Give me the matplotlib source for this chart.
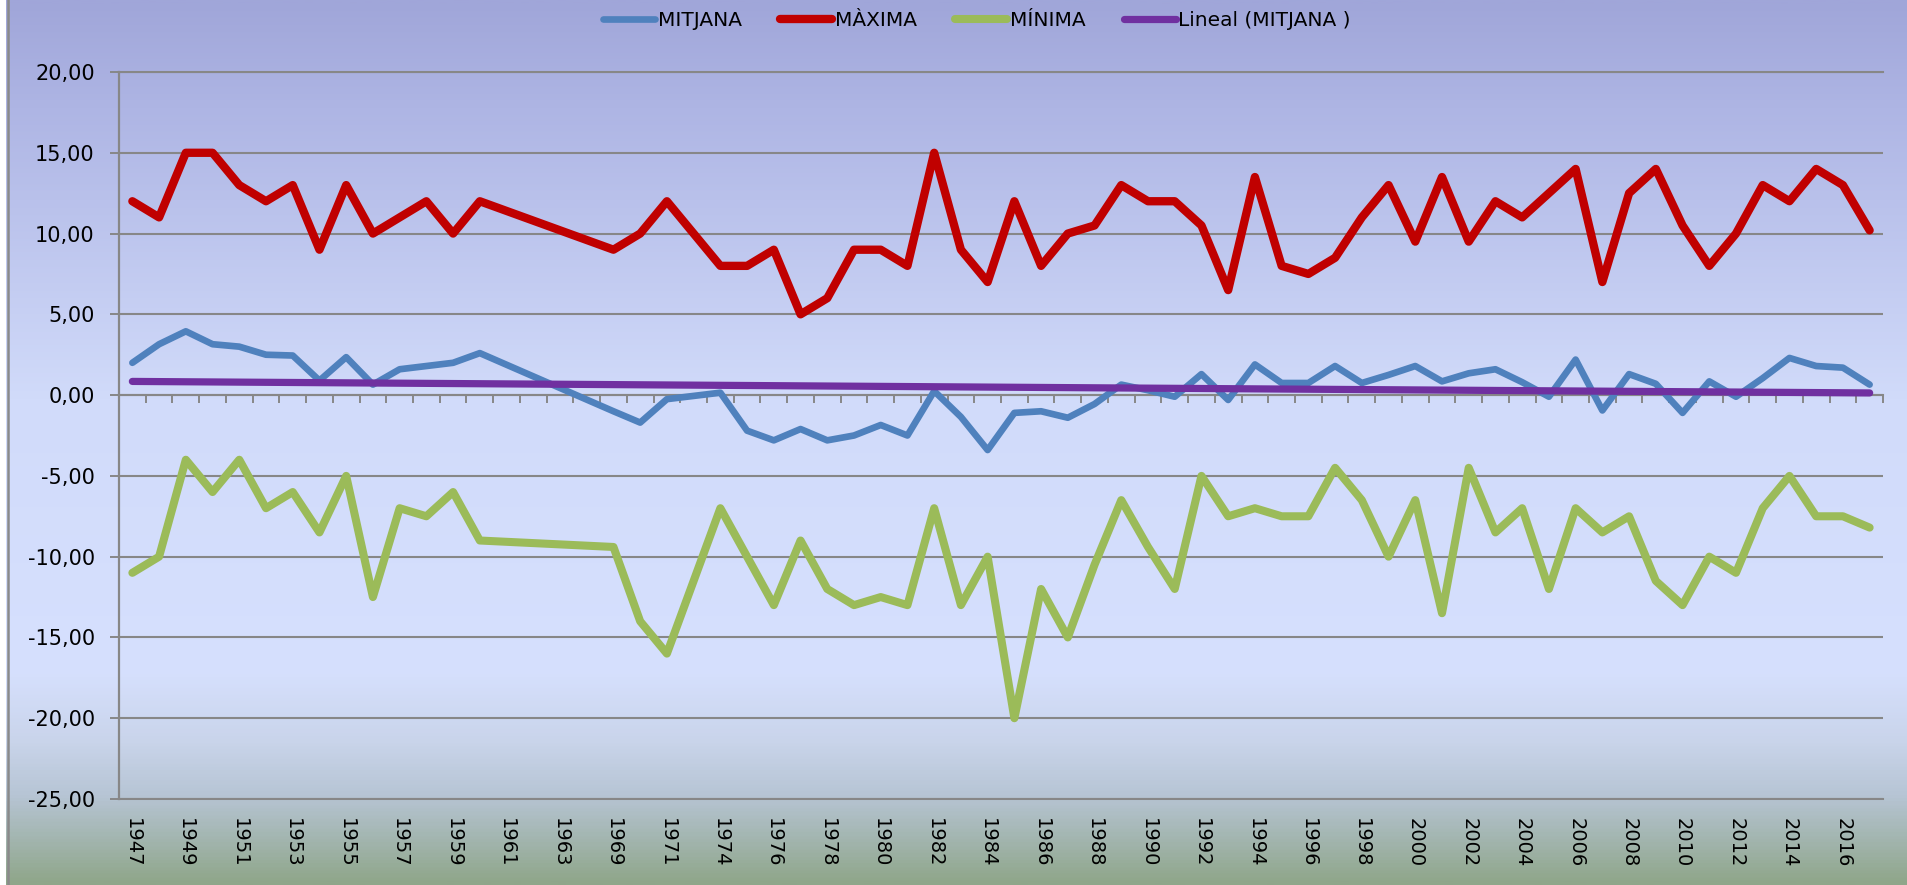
import numpy as np
import matplotlib
matplotlib.use("Agg")
import matplotlib.pyplot as plt
from matplotlib.colors import LinearSegmentedColormap
from matplotlib.ticker import MultipleLocator, FuncFormatter, NullLocator, FixedLocator
from matplotlib.patches import Rectangle

nan = np.nan

years = ['1947', '1948', '1949', '1950', '1951', '1952', '1953', '1954', '1955', '1956',
         '1957', '1958', '1959', '1960', '1961', '1962', '1963', '1968', '1969', '1970',
         '1971', '1973', '1974', '1975', '1976', '1977', '1978', '1979', '1980', '1981',
         '1982', '1983', '1984', '1985', '1986', '1987', '1988', '1989', '1990', '1991',
         '1992', '1993', '1994', '1995', '1996', '1997', '1998', '1999', '2000', '2001',
         '2002', '2003', '2004', '2005', '2006', '2007', '2008', '2009', '2010', '2011',
         '2012', '2013', '2014', '2015', '2016', '2017']

mitjana = [2.0, 3.15, 3.95, 3.15, 3.0, 2.5, 2.45, 0.9, 2.35, 0.65, 1.6, 1.8, 2.0, 2.6,
           nan, nan, nan, nan,
           -1.0, -1.7, -0.25, -0.05, 0.15, -2.2, -2.8, -2.1, -2.8, -2.5, -1.85, -2.5,
           0.25, -1.35, -3.4, -1.1, -1.0, -1.4, -0.55, 0.65, 0.3,
           -0.1, 1.3, -0.3, 1.9, 0.75, 0.75, 1.8, 0.75, 1.25, 1.8, 0.85, 1.35, 1.6, 0.8,
           -0.1, 2.2, -0.95, 1.3, 0.7, -1.1, 0.85, -0.1, 1.05, 2.3, 1.8, 1.7, 0.65]

maxima = [12, 11, 15, 15, 13, 12, 13, 9, 13, 10, 11, 12, 10, 12,
          nan, nan, nan, nan,
          9, 10, 12, 10, 8, 8, 9, 5, 6, 9, 9, 8, 15, 9, 7, 12, 8, 10, 10.5, 13, 12,
          12, 10.5, 6.5, 13.5, 8, 7.5, 8.5, 11, 13, 9.5, 13.5, 9.5, 12, 11, 12.5, 14,
          7, 12.5, 14, 10.5, 8, 10, 13, 12, 14, 13, 10.2]

minima = [-11, -10, -4, -6, -4, -7, -6, -8.5, -5, -12.5, -7, -7.5, -6, -9,
          nan, nan, nan, nan,
          -9.4, -14, -16, -11.5, -7, -10, -13, -9, -12, -13, -12.5, -13, -7, -13, -10,
          -20, -12, -15, -10.5, -6.5, -9.4,
          -12, -5, -7.5, -7, -7.5, -7.5, -4.5, -6.5, -10, -6.5, -13.5, -4.5, -8.5, -7,
          -12, -7, -8.5, -7.5, -11.5, -13, -10, -11, -7, -5, -7.5, -7.5, -8.2]

series_names = ['MITJANA', 'MÀXIMA', 'MÍNIMA', 'Lineal (MITJANA )']
colors = ['#4F81BD', '#C00000', '#9BBB59', '#7030A0']

W, H = 1908, 885
fig = plt.figure(figsize=(W / 100, H / 100), dpi=100)

# background gradient
bg = fig.add_axes([0, 0, 1, 1], zorder=-10)
stops = [(0.0, '#A0A6D9'), (0.12, '#AEB5E4'), (0.45, '#D1DBFA'), (0.76, '#D6E0FE'),
         (0.84, '#C9D4EA'), (0.90, '#B7C5D5'), (1.0, '#8FA68A')]
cmap = LinearSegmentedColormap.from_list('bg', stops)
grad = np.linspace(0, 1, 600).reshape(-1, 1)
bg.imshow(grad, aspect='auto', cmap=cmap, extent=[0, 1, 0, 1], origin='upper')
bg.set_xlim(0, 1)
bg.set_ylim(0, 1)
bg.axis('off')
bg.add_patch(Rectangle((0, 0), 6 / W, 1, color='white', lw=0))
bg.axvline(8 / W, color='#8a8a8a', lw=1.8)

gc = '#878787'
rect = [119 / W, 1 - 799 / H, (1883 - 119) / W, (799 - 72) / H]
ax = fig.add_axes(rect)
ax.set_facecolor('none')
n = len(years)
x = np.arange(n)
ax.set_xlim(-0.5, n - 0.5)
ax.set_ylim(-25, 20)

def draw(vals, color, lw, label, z):
    v = np.asarray(vals, dtype=float)
    m = ~np.isnan(v)
    return ax.plot(x[m], v[m], color=color, lw=lw, solid_capstyle='round',
                   solid_joinstyle='round', label=label, zorder=z)[0]

h1 = draw(mitjana, colors[0], 4.8, series_names[0], 3)
h2 = draw(maxima, colors[1], 6.0, series_names[1], 4)
h3 = draw(minima, colors[2], 5.8, series_names[2], 5)

# linear trend of MITJANA
mv = np.asarray(mitjana, dtype=float)
mm = ~np.isnan(mv)
coef = np.polyfit(x[mm], mv[mm], 1)
trend = np.polyval(coef, x)
h4 = ax.plot(x, trend, color=colors[3], lw=5.2, solid_capstyle='round',
             label=series_names[3], zorder=6)[0]

# y axis
ax.yaxis.set_major_locator(MultipleLocator(5))
ax.yaxis.set_major_formatter(FuncFormatter(lambda v, p: f'{v:.2f}'.replace('.', ',')))
ax.tick_params(axis='y', length=6.5, width=1.4, color=gc, labelsize=15, pad=11,
               labelcolor='black')
ax.grid(axis='y', color=gc, lw=1.5, zorder=1)
ax.set_axisbelow(True)
for s in ['top', 'right']:
    ax.spines[s].set_visible(False)
ax.spines['left'].set_color(gc)
ax.spines['left'].set_linewidth(1.6)
ax.spines['bottom'].set_position(('data', 0))
ax.spines['bottom'].set_color(gc)
ax.spines['bottom'].set_linewidth(1.5)

# x axis ticks at category boundaries along the 0 line
ax.xaxis.set_major_locator(NullLocator())
ax.xaxis.set_minor_locator(FixedLocator(np.arange(n + 1) - 0.5))
ax.tick_params(axis='x', which='minor', length=5.5, width=1.4, color=gc, direction='out')

# overlay axis for category labels and frame lines at 20 / -25
axl = fig.add_axes(rect, label='labels')
axl.patch.set_visible(False)
axl.set_xlim(-0.5, n - 0.5)
axl.set_ylim(0, 1)
axl.set_yticks([])
for s in ['left', 'right']:
    axl.spines[s].set_visible(False)
for s in ['top', 'bottom']:
    axl.spines[s].set_color(gc)
    axl.spines[s].set_linewidth(1.5)
axl.set_xticks(x[::2], [years[i] for i in x[::2]], rotation=-90)
axl.tick_params(axis='x', length=0, pad=13.5, labelsize=14, labelcolor='black')

fig.legend([h1, h2, h3, h4], series_names, loc='center', bbox_to_anchor=(0.512, 0.977),
           ncol=4, frameon=False, handlelength=2.6, handletextpad=0.12,
           columnspacing=1.9,
           prop={'family': ['DejaVu Sans'], 'size': 14.5})

fig.savefig('out.png', dpi=100)
